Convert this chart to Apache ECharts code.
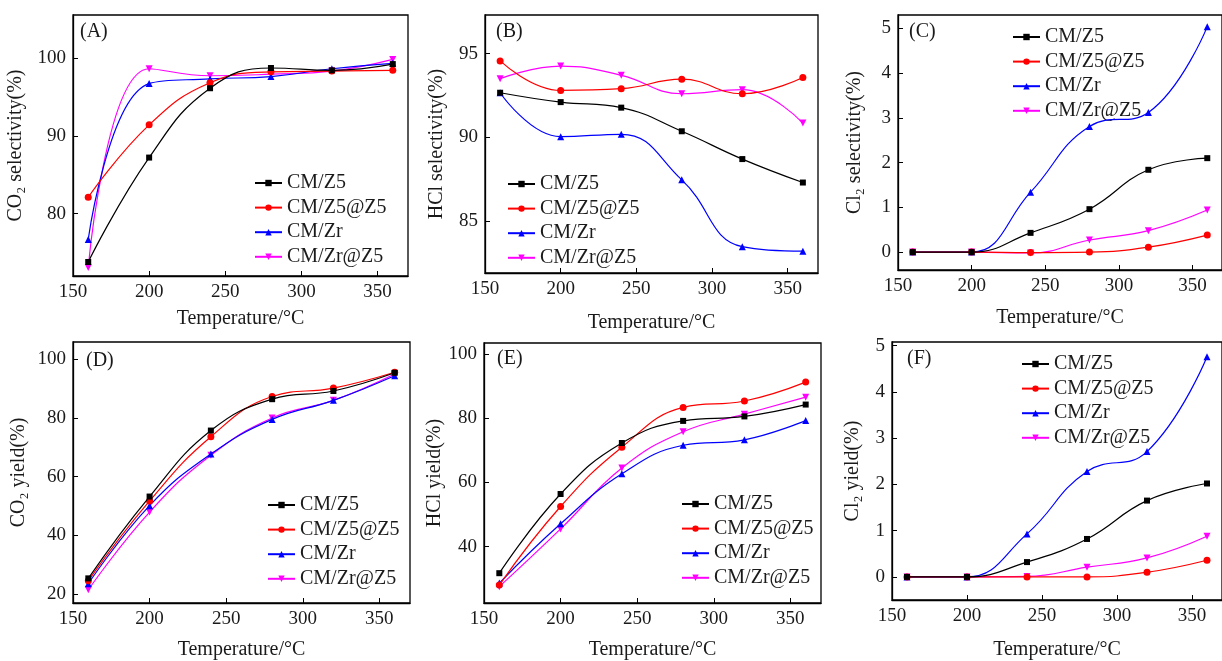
<!DOCTYPE html>
<html>
<head>
<meta charset="utf-8">
<script src="https://cdn.jsdelivr.net/npm/echarts@6/dist/echarts.min.js"></script>
<style>
  html, body { margin: 0; padding: 0; background: #fff; }
  #main { width: 1222px; height: 661px; }
</style>
</head>
<body>
<div id="main"></div>
<script>
// temperatures (°C) and sample names
const temps = [160, 200, 240, 280, 320, 360];
const names = ['CM/Z5', 'CM/Z5@Z5', 'CM/Zr', 'CM/Zr@Z5'];
const xTicks = [150, 200, 250, 300, 350];

// (A) CO2 selectivity
const co2SelZ5 = [73.8, 87.2, 96.1, 98.7, 98.4, 99.2];
const co2SelZ5Z5 = [82.1, 91.4, 96.8, 98.2, 98.3, 98.4];
const co2SelZr = [76.7, 96.7, 97.3, 97.6, 98.6, 99.3];
const co2SelZrZ5 = [73.1, 98.6, 97.7, 97.9, 98.3, 99.8];
const co2SelTicks = [80, 90, 100];

// (B) HCl selectivity
const hclSelZ5 = [92.66, 92.1, 91.77, 90.36, 88.7, 87.3];
const hclSelZ5Z5 = [94.56, 92.8, 92.9, 93.47, 92.6, 93.57];
const hclSelZr = [92.66, 90.04, 90.18, 87.46, 83.47, 83.2];
const hclSelZrZ5 = [93.5, 94.25, 93.7, 92.6, 92.84, 90.85];
const hclSelTicks = [85, 90, 95];

// (C) Cl2 selectivity
const cl2SelZ5 = [0, 0, 0.43, 0.96, 1.84, 2.1];
const cl2SelZ5Z5 = [0, 0, -0.01, 0, 0.11, 0.38];
const cl2SelZr = [0, 0, 1.34, 2.81, 3.12, 5.04];
const cl2SelZrZ5 = [0, 0, -0.02, 0.27, 0.48, 0.94];
const cl2SelTicks = [0, 1, 2, 3, 4, 5];

// (D) CO2 yield
const co2YZ5 = [25.3, 53.2, 75.7, 86.4, 89.2, 95.4];
const co2YZ5Z5 = [24.5, 51.7, 73.6, 87.3, 90.2, 95.6];
const co2YZr = [23.5, 50.1, 67.7, 79.5, 86.0, 94.4];
const co2YZrZ5 = [21.4, 47.9, 67.3, 80.0, 86.0, 95.0];
const co2YTicks = [20, 40, 60, 80, 100];

// (E) HCl yield
const hclYZ5 = [31.7, 56.4, 72.3, 79.2, 80.6, 84.3];
const hclYZ5Z5 = [28.0, 52.5, 71.0, 83.4, 85.4, 91.3];
const hclYZr = [28.6, 47.1, 62.7, 71.6, 73.3, 79.3];
const hclYZrZ5 = [27.5, 45.5, 64.5, 75.8, 81.3, 86.6];
const hclYTicks = [40, 60, 80, 100];

// (F) Cl2 yield
const cl2YZ5 = [0, 0, 0.32, 0.82, 1.65, 2.02];
const cl2YZ5Z5 = [0, 0, 0, 0, 0.1, 0.36];
const cl2YZr = [0, 0, 0.93, 2.28, 2.71, 4.76];
const cl2YZrZ5 = [0, 0, 0.01, 0.21, 0.41, 0.88];
const cl2YTicks = [0, 1, 2, 3, 4, 5];

const colors = ['#000000', '#ff0000', '#0000ff', '#ff00ff'];
const symbols = ['rect', 'circle', 'triangle', 'triangle'];
const symbolRot = [0, 0, 0, 180];
const symbolSz = [6, 7, 7, 7];

const font = 'Liberation Serif, Times New Roman, serif';
const txt = '#1a1a1a';

// layout of each panel (pixels)
const panels = [
    {tag: '(A)', yName: 'CO₂ selectivity(%)', sets: [co2SelZ5, co2SelZ5Z5, co2SelZr, co2SelZrZ5], ticks: co2SelTicks,
        ymin: 72, ymax: 105.5, grid: {left: 73, top: 15, width: 335, height: 261},
        yGap: 47, xGap: 33, legend: {left: 249, top: 168}, tagPos: {left: 80, top: 22}},
    {tag: '(B)', yName: 'HCl selectivity(%)', sets: [hclSelZ5, hclSelZ5Z5, hclSelZr, hclSelZrZ5], ticks: hclSelTicks,
        ymin: 81.9, ymax: 97.3, grid: {left: 485, top: 15, width: 333, height: 258},
        yGap: 38, xGap: 40, legend: {left: 502, top: 169}, tagPos: {left: 496, top: 22}},
    {tag: '(C)', yName: 'Cl₂ selectivity(%)', sets: [cl2SelZ5, cl2SelZ5Z5, cl2SelZr, cl2SelZrZ5], ticks: cl2SelTicks,
        ymin: -0.4, ymax: 5.3, grid: {left: 898, top: 15, width: 336, height: 255},
        yGap: 33, xGap: 38, legend: {left: 1007, top: 22}, tagPos: {left: 909, top: 22}},
    {tag: '(D)', yName: 'CO₂ yield(%)', sets: [co2YZ5, co2YZ5Z5, co2YZr, co2YZrZ5], ticks: co2YTicks,
        ymin: 16.9, ymax: 105.9, grid: {left: 73, top: 342, width: 337, height: 263},
        yGap: 44, xGap: 37, legend: {left: 262, top: 490}, tagPos: {left: 86, top: 351}},
    {tag: '(E)', yName: 'HCl yield(%)', sets: [hclYZ5, hclYZ5Z5, hclYZr, hclYZrZ5], ticks: hclYTicks,
        ymin: 22.4, ymax: 103.5, grid: {left: 484, top: 343, width: 337, height: 260},
        yGap: 39, xGap: 37, legend: {left: 676, top: 489}, tagPos: {left: 497, top: 349}},
    {tag: '(F)', yName: 'Cl₂ yield(%)', sets: [cl2YZ5, cl2YZ5Z5, cl2YZr, cl2YZrZ5], ticks: cl2YTicks,
        ymin: -0.5, ymax: 5.08, grid: {left: 892, top: 342, width: 339, height: 258},
        yGap: 29, xGap: 40, legend: {left: 1016, top: 349}, tagPos: {left: 907, top: 349}},
];

const grids = [], xAxes = [], yAxes = [], series = [], legends = [], graphics = [];

panels.forEach(function (p, i) {
    grids.push(Object.assign({show: true, borderColor: '#000', borderWidth: 1.3, backgroundColor: 'transparent'}, p.grid));
    xAxes.push({
        type: 'value', gridIndex: i, min: 150, max: 370,
        name: 'Temperature/°C', nameLocation: 'middle', nameGap: p.xGap,
        nameTextStyle: {fontFamily: font, fontSize: 20, color: txt},
        axisLine: {show: true, onZero: false, lineStyle: {color: '#000', width: 1.3}},
        axisTick: {show: true, inside: true, length: 5, customValues: xTicks, lineStyle: {color: '#000'}},
        axisLabel: {customValues: xTicks, fontFamily: font, fontSize: 19, color: txt, margin: 7},
        splitLine: {show: false}
    });
    yAxes.push({
        type: 'value', gridIndex: i, min: p.ymin, max: p.ymax,
        name: p.yName, nameLocation: 'middle', nameRotate: 90, nameGap: p.yGap,
        nameTextStyle: {fontFamily: font, fontSize: 20, color: txt},
        axisLine: {show: true, onZero: false, lineStyle: {color: '#000', width: 1.3}},
        axisTick: {show: true, inside: true, length: 5, customValues: p.ticks, lineStyle: {color: '#000'}},
        axisLabel: {customValues: p.ticks, fontFamily: font, fontSize: 19, color: txt, margin: 7},
        splitLine: {show: false}
    });
    p.sets.forEach(function (vals, k) {
        series.push({
            name: names[k], type: 'line', xAxisIndex: i, yAxisIndex: i,
            data: temps.map(function (t, j) { return [t, vals[j]]; }),
            smooth: 0.45,
            symbol: symbols[k], symbolSize: symbolSz[k], symbolRotate: symbolRot[k],
            itemStyle: {color: colors[k]},
            lineStyle: {color: colors[k], width: 1.2},
            z: 10 - k
        });
    });
    legends.push({
        orient: 'vertical', left: p.legend.left, top: p.legend.top,
        data: names, itemWidth: 27, itemHeight: 8, itemGap: 4.6,
        selectedMode: false,
        textStyle: {fontFamily: font, fontSize: 20, color: txt, lineHeight: 20}
    });
    graphics.push({
        type: 'text', left: p.tagPos.left, top: p.tagPos.top,
        style: {text: p.tag, font: '20px ' + font, fill: txt}
    });
});

const chart = echarts.init(document.getElementById('main'));
chart.setOption({
    animation: false,
    backgroundColor: '#fff',
    grid: grids,
    xAxis: xAxes,
    yAxis: yAxes,
    legend: legends,
    graphic: graphics,
    series: series
});
</script>
</body>
</html>
